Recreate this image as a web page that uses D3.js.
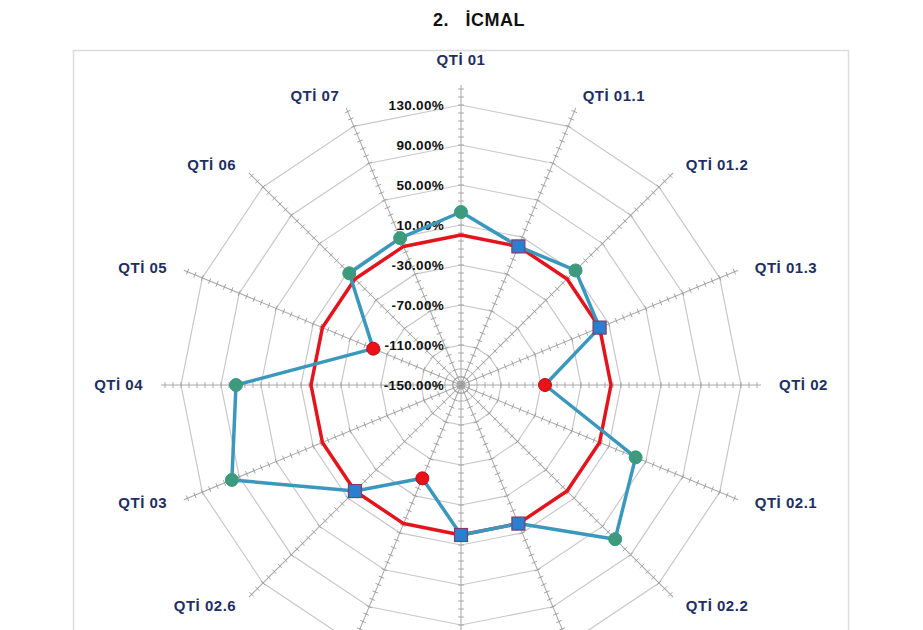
<!DOCTYPE html>
<html>
<head>
<meta charset="utf-8">
<script src="https://cdn.jsdelivr.net/npm/d3@7"></script>
<style>
  body { margin: 0; background: #fff; }
  svg text { font-family: Arial, "Liberation Sans", sans-serif; }
</style>
</head>
<body>
<div id="container"></div>
<script>
// data
const categories = ["QTİ 01", "QTİ 01.1", "QTİ 01.2", "QTİ 01.3", "QTİ 02", "QTİ 02.1", "QTİ 02.2", "QTİ 02.3",
                    "QTİ 02.4", "QTİ 02.5", "QTİ 02.6", "QTİ 03", "QTİ 04", "QTİ 05", "QTİ 06", "QTİ 07"];
const actualValues = [23, 0, 12, 0, -66, 39, 68, 0, 0, -49, 0, 98, 75, -55, 8, 9];
const planValues   = [0, 0, 0, 0, 0, 0, 0, 0, 0, 0, 0, 0, 0, 0, 0, 0];
const tickValues   = [-150, -110, -70, -30, 10, 50, 90, 130];
const titleText = "2.   İCMAL";

const width = 923, height = 630;
const cx = 461, cy = 385;

const svg = d3.select("#container").append("svg")
  .attr("width", width)
  .attr("height", height);

// scales
const rScale = d3.scaleLinear().domain([-150, 150]).range([0, 300]);
const aScale = d3.scaleLinear().domain([0, categories.length]).range([0, 2 * Math.PI]);
const pctFormat = d3.formatLocale({ decimal: ".", thousands: ",", grouping: [3], currency: ["", ""], minus: "-" }).format(".2f");

const g = svg.append("g").attr("transform", `translate(${cx},${cy})`);

function pt(i, v) {
  const a = aScale(i), r = rScale(v);
  return [r * Math.sin(a), -r * Math.cos(a)];
}

// frame
svg.append("rect")
  .attr("x", 73.5).attr("y", 50.5)
  .attr("width", 775).attr("height", 700)
  .attr("fill", "none")
  .attr("stroke", "#dcdcdc")
  .attr("stroke-width", 1.5);

// title
svg.append("text")
  .attr("x", 479).attr("y", 26)
  .attr("text-anchor", "middle")
  .style("white-space", "pre")
  .attr("font-size", 18)
  .attr("font-weight", "bold")
  .attr("letter-spacing", 0.5)
  .attr("fill", "#111")
  .text(titleText);

// grid rings
const ringLine = d3.lineRadial()
  .angle((d, i) => aScale(i))
  .radius(d => rScale(d))
  .curve(d3.curveLinearClosed);

g.selectAll("path.ring")
  .data(tickValues.slice(1))
  .join("path")
  .attr("class", "ring")
  .attr("d", v => ringLine(categories.map(() => v)))
  .attr("fill", "none")
  .attr("stroke", "#c8c8c8")
  .attr("stroke-width", 1.2);

// spokes with minor ticks
const minorTicks = d3.range(-150, 151, 8);
const spokes = g.selectAll("g.spoke")
  .data(categories)
  .join("g")
  .attr("class", "spoke")
  .attr("transform", (d, i) => `rotate(${aScale(i) * 180 / Math.PI})`);

spokes.append("line")
  .attr("x1", 0).attr("y1", 0)
  .attr("x2", 0).attr("y2", -rScale(150))
  .attr("stroke", "#a8a8a8")
  .attr("stroke-width", 1);

spokes.selectAll("line.tick")
  .data(minorTicks)
  .join("line")
  .attr("class", "tick")
  .attr("x1", -3).attr("x2", 3)
  .attr("y1", d => -rScale(d))
  .attr("y2", d => -rScale(d))
  .attr("stroke", "#999")
  .attr("stroke-width", 0.8);

g.append("circle")
  .attr("r", 4)
  .attr("fill", "none")
  .attr("stroke", "#999");

// value labels along top axis
g.selectAll("text.vlabel")
  .data(tickValues)
  .join("text")
  .attr("class", "vlabel")
  .attr("x", -17)
  .attr("y", d => -rScale(d))
  .attr("dy", "0.36em")
  .attr("text-anchor", "end")
  .attr("font-size", 13.5)
  .attr("font-weight", "bold")
  .attr("letter-spacing", 0.3)
  .attr("fill", "#111")
  .text(d => pctFormat(d) + "%");

// series lines
const seriesLine = d3.line()
  .x((d, i) => pt(i, d)[0])
  .y((d, i) => pt(i, d)[1])
  .curve(d3.curveLinearClosed);

g.append("path")
  .attr("d", seriesLine(planValues))
  .attr("fill", "none")
  .attr("stroke", "#e3141b")
  .attr("stroke-width", 3.5)
  .attr("stroke-linejoin", "round");

g.append("path")
  .attr("d", seriesLine(actualValues))
  .attr("fill", "none")
  .attr("stroke", "#3a98bd")
  .attr("stroke-width", 3.5)
  .attr("stroke-linejoin", "round");

// markers: above plan green circle, on plan blue square, below plan red circle
const markers = g.selectAll("g.marker")
  .data(actualValues.map((v, i) => ({ v, i, p: planValues[i] })))
  .join("g")
  .attr("class", "marker")
  .attr("transform", d => `translate(${pt(d.i, d.v)})`);

markers.filter(d => d.v > d.p).append("circle")
  .attr("r", 6.5)
  .attr("fill", "#3e9a7d")
  .attr("stroke", "#3e9a7d");

markers.filter(d => d.v < d.p).append("circle")
  .attr("r", 6.5)
  .attr("fill", "#ec1019")
  .attr("stroke", "#b8101a");

markers.filter(d => d.v === d.p).append("rect")
  .attr("x", -6.5).attr("y", -6.5)
  .attr("width", 13).attr("height", 13)
  .attr("fill", "#2c7fcf")
  .attr("stroke", "#7d3d6e")
  .attr("stroke-width", 1.2);

// category labels
const labelR = 318;
g.selectAll("text.cat")
  .data(categories)
  .join("text")
  .attr("class", "cat")
  .attr("x", (d, i) => labelR * Math.sin(aScale(i)))
  .attr("y", (d, i) => {
    const s = Math.sin(aScale(i)), c = Math.cos(aScale(i));
    const y = -labelR * c;
    if (Math.abs(s) < 0.01) return c > 0 ? y - 7 : y + 7;
    return y + (c > 0.01 ? 4 : c < -0.01 ? -4 : 0);
  })
  .attr("dy", "0.36em")
  .attr("text-anchor", (d, i) => {
    const s = Math.sin(aScale(i));
    return s > 0.01 ? "start" : s < -0.01 ? "end" : "middle";
  })
  .attr("font-size", 15)
  .attr("font-weight", "bold")
  .attr("letter-spacing", 0.5)
  .attr("fill", "#1f2f62")
  .text(d => d);
</script>
</body>
</html>
